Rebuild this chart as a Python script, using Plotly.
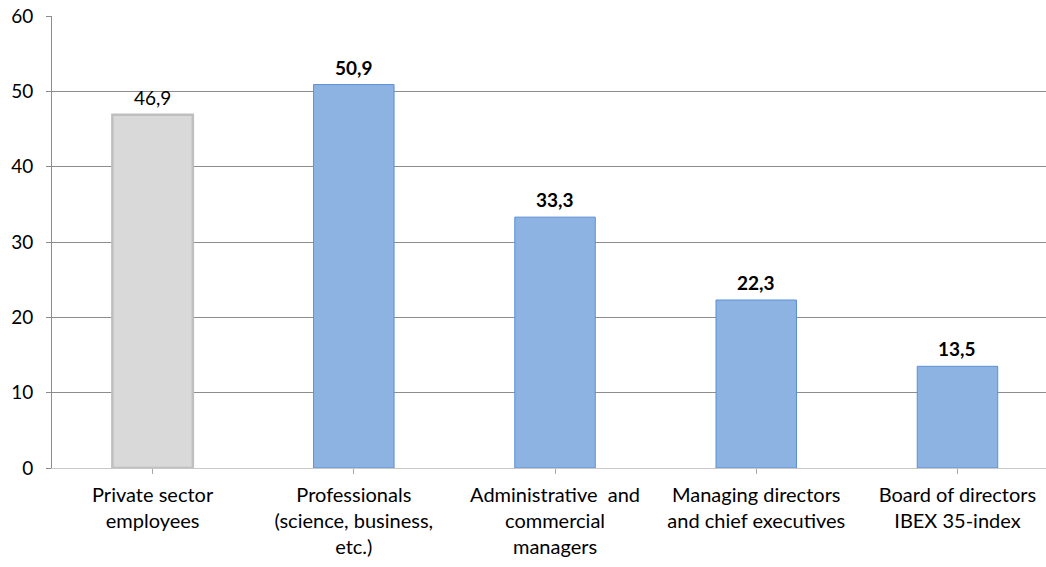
import plotly.graph_objects as go

categories = [
    "Private sector<br>employees",
    "Professionals<br>(science, business,<br>etc.)",
    "Administrative  and<br>commercial<br>managers",
    "Managing directors<br>and chief executives",
    "Board of directors<br>IBEX 35-index",
]
values = [46.9, 50.9, 33.3, 22.3, 13.5]
y_ticks = [0, 10, 20, 30, 40, 50, 60]

fills = ["#d9d9d9"] + ["#8db3e2"] * 4
edges = ["#bfbfbf"] + ["#5b8fd6"] * 4
edge_w = [2.5, 1, 1, 1, 1]

font = "Lato, Calibri, 'Open Sans', sans-serif"
x = list(range(len(categories)))

fig = go.Figure()
fig.add_trace(go.Bar(
    x=x,
    y=values,
    width=0.4,
    marker=dict(color=fills, line=dict(color=edges, width=edge_w)),
    hoverinfo="skip",
))

for i, v in enumerate(values):
    label = f"{v:.1f}".replace(".", ",")
    fig.add_annotation(
        x=i, y=v, text=label if i == 0 else f"<b>{label}</b>",
        showarrow=False, yanchor="bottom", yshift=4,
        font=dict(family=font, size=19, color="#000000"),
    )

fig.update_layout(
    width=1046, height=567,
    margin=dict(l=52, r=0, t=16, b=99),
    paper_bgcolor="white", plot_bgcolor="white",
    showlegend=False,
    font=dict(family=font, size=19, color="#000000"),
    xaxis=dict(
        range=[-0.5, 4.44],
        tickmode="array", tickvals=x, ticktext=categories,
        tickfont=dict(family=font, size=20, color="#000000"),
        tickson="boundaries", ticks="outside", ticklen=5,
        tickcolor="#a6a6a6",
        ticklabelstandoff=4,
        showline=True, linecolor="#c8c8c8", linewidth=1,
        showgrid=False, zeroline=False, fixedrange=True,
    ),
    yaxis=dict(
        range=[0, 60],
        tickmode="array", tickvals=y_ticks,
        ticks="outside", ticklen=5, tickcolor="#8c8c8c",
        ticklabelstandoff=9,
        showline=True, linecolor="#8c8c8c", linewidth=1,
        showgrid=True, gridcolor="#8c8c8c", gridwidth=1,
        zeroline=False, fixedrange=True,
    ),
)

fig.write_html("out.html")
